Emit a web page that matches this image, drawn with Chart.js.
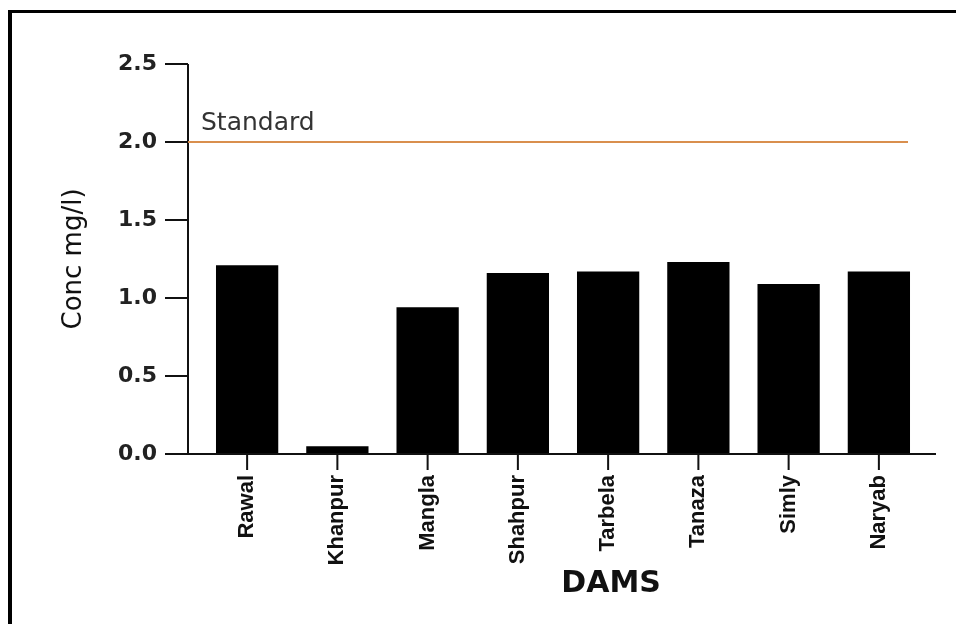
<!DOCTYPE html>
<html>
<head>
<meta charset="utf-8">
<script src="https://cdn.jsdelivr.net/npm/chart.js@4.4.1/dist/chart.umd.min.js"></script>
<style>
  body { margin: 0; background: #fff; }
  #wrap { position: relative; width: 956px; height: 624px; }
  #frame {
    position: absolute; left: 8px; top: 10px; right: 0; bottom: 0;
    border-left: 4px solid #000; border-top: 3px solid #000;
    pointer-events: none;
  }
</style>
</head>
<body>
<div id="wrap">
  <canvas id="damChart" width="956" height="624"></canvas>
  <div id="frame"></div>
</div>
<script>
const dams = ['Rawal', 'Khanpur', 'Mangla', 'Shahpur', 'Tarbela', 'Tanaza', 'Simly', 'Naryab'];
const concValues = [1.21, 0.05, 0.94, 1.16, 1.17, 1.23, 1.09, 1.17];
const standardValue = 2.0;
const standardLabel = 'Standard';
const yTickValues = [0, 0.5, 1.0, 1.5, 2.0, 2.5];

// axis lines, tick marks, standard line and x title
const axesPlugin = {
  id: 'axesPlugin',
  afterDraw(chart) {
    const { ctx, chartArea, scales } = chart;
    const x = scales.x;
    const y = scales.y;
    const axisX = chartArea.left - 14;
    const axisRight = chartArea.right + 12;
    const y0 = y.getPixelForValue(0);

    ctx.save();
    ctx.strokeStyle = '#111';
    ctx.lineWidth = 2;

    // y axis + ticks
    ctx.beginPath();
    ctx.moveTo(axisX, y.getPixelForValue(2.5));
    ctx.lineTo(axisX, y0);
    yTickValues.forEach(v => {
      const py = y.getPixelForValue(v);
      ctx.moveTo(axisX - 23, py);
      ctx.lineTo(axisX, py);
    });
    // x axis + ticks
    ctx.moveTo(axisX, y0);
    ctx.lineTo(axisRight, y0);
    dams.forEach((d, i) => {
      const px = x.getPixelForValue(i);
      ctx.moveTo(px, y0);
      ctx.lineTo(px, y0 + 16);
    });
    ctx.stroke();

    // standard line
    const sy = y.getPixelForValue(standardValue);
    ctx.strokeStyle = '#d98f4e';
    ctx.lineWidth = 2;
    ctx.beginPath();
    ctx.moveTo(axisX, sy);
    ctx.lineTo(axisRight - 28, sy);
    ctx.stroke();

    ctx.fillStyle = '#333';
    ctx.font = '25px "DejaVu Sans"';
    ctx.textAlign = 'left';
    ctx.textBaseline = 'alphabetic';
    ctx.fillText(standardLabel, axisX + 13, sy - 12);

    // x title
    ctx.fillStyle = '#111';
    ctx.font = 'bold 30px "DejaVu Sans"';
    ctx.textAlign = 'center';
    ctx.fillText('DAMS', x.getPixelForValue(4) + 3, 592);
    ctx.restore();
  }
};

const ctx = document.getElementById('damChart').getContext('2d');
const damChart = new Chart(ctx, {
  type: 'bar',
  data: {
    labels: dams,
    datasets: [
      {
        data: concValues,
        backgroundColor: '#000',
        borderWidth: 0,
        barPercentage: 0.69,
        categoryPercentage: 1.0,
      },
    ],
  },
  options: {
    responsive: false,
    animation: false,
    devicePixelRatio: 1,
    layout: { padding: { top: 64, right: 32, left: 0, bottom: 0 } },
    plugins: { legend: { display: false }, tooltip: { enabled: false } },
    scales: {
      x: {
        grid: { display: false, drawTicks: false },
        border: { display: false },
        ticks: {
          color: '#111',
          minRotation: 90,
          maxRotation: 90,
          padding: 21,
          font: { family: '"Liberation Sans Narrow", "Liberation Sans", Arial', weight: 'bold', size: 22 },
        },
        afterFit: s => { s.height = 170; },
      },
      y: {
        min: 0,
        max: 2.5,
        grid: { display: false, drawTicks: false },
        border: { display: false },
        ticks: {
          stepSize: 0.5,
          padding: 45,
          color: '#222',
          font: { family: '"DejaVu Sans"', weight: 'bold', size: 22 },
          callback: v => v.toFixed(1),
        },
        title: {
          display: true,
          text: 'Conc mg/l)',
          color: '#111',
          padding: { top: 59, bottom: 0 },
          font: { family: '"DejaVu Sans"', size: 26 },
        },
        afterFit: s => { s.width = 202; },
      },
    },
  },
  plugins: [axesPlugin],
});
</script>
</body>
</html>
